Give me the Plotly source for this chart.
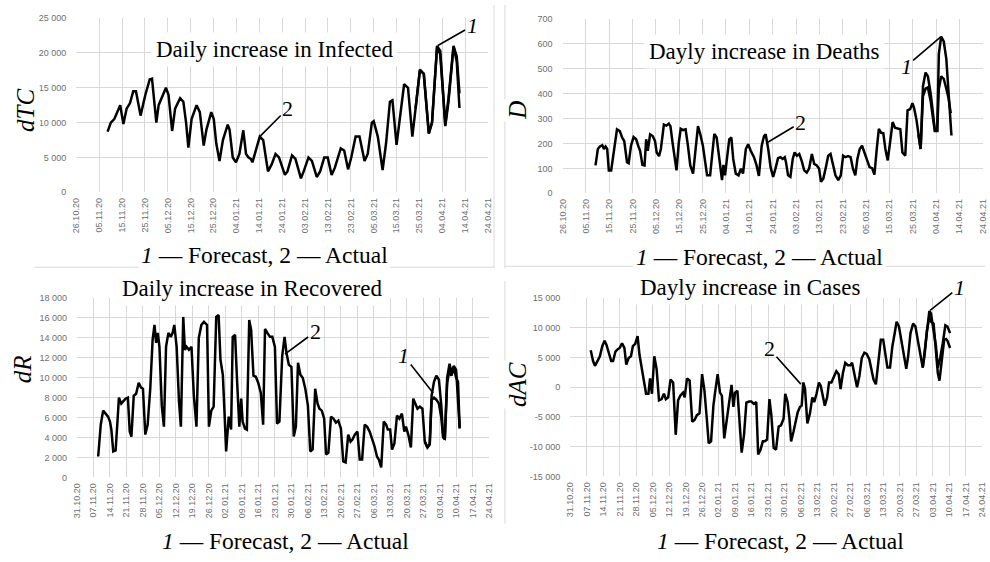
import plotly.graph_objects as go
import pandas as pd

W, H = 990, 562

# ---------------- data (days counted from the first axis date) ----------------
# Panel 1: Daily increase in Infected, axis starts 26.10.20
TC_START = "2020-10-26"
TC_DAY = [13.7, 15.1, 16.6, 18.0, 19.2, 20.6, 22.0, 23.5, 24.9, 26.1, 28.1, 30.2, 32.1, 33.1, 35.0, 36.0,
          37.4, 39.2, 40.3, 41.0, 41.9, 43.2, 45.4, 46.8, 48.0, 49.0, 50.4, 52.6, 54.0, 55.7, 56.9, 59.0,
          60.1, 61.2, 62.6, 64.1, 66.2, 67.0, 68.4, 69.8, 71.3, 73.0, 74.2, 75.3, 76.3, 77.0, 78.5, 80.2,
          81.7, 83.8, 85.4, 87.1, 88.6, 89.7, 91.2, 92.3, 94.3, 95.8, 97.2, 98.2, 99.4, 101.5, 103.0, 105.1,
          106.6, 108.4, 109.9, 111.6, 113.0, 115.6, 117.1, 118.8, 120.2, 122.1, 123.8, 126.0, 127.4, 129.2,
          130.0, 131.8, 133.9, 135.4, 137.1, 138.2, 140.0, 141.1, 143.3, 145.0, 146.9, 148.3, 150.2, 151.9,
          154.1, 155.5, 157.7, 159.1, 161.3, 162.7, 164.9, 166.3, 167.5]
TC_ACTUAL = [8700, 10000, 10500, 11500, 12500, 9800, 12000, 12800, 14500, 14500, 11000, 14000, 16200, 16300,
             10000, 12500, 13500, 15000, 14000, 11500, 8800, 12000, 13500, 13000, 10000, 6400, 10500, 12500,
             11500, 6700, 9000, 11500, 10500, 7000, 4500, 7500, 9700, 9000, 5000, 4300, 5500, 8900, 5500,
             5000, 4800, 4300, 6000, 8000, 7500, 3000, 4000, 5500, 5000, 4000, 2500, 3000, 5300, 4800, 3000,
             2000, 3000, 5000, 4500, 2200, 3000, 5000, 5000, 2500, 3500, 6300, 6000, 3300, 5000, 8000, 8000,
             4500, 5500, 10000, 10200, 8000, 3200, 7000, 13000, 13200, 6800, 10000, 15500, 15000, 8000, 12000,
             17500, 17000, 8500, 10000, 20800, 19800, 9500, 13000, 20900, 18800, 12100]
TC_FC_DAY = [148.3, 150.2, 151.9, 154.1, 155.5, 157.7, 159.1, 161.3, 162.7, 164.9, 166.3, 167.5]
TC_FORECAST = [12000, 17600, 17000, 8400, 10000, 21000, 20300, 9700, 13500, 21000, 19500, 14200]

# Panel 2: Dayly increase in Deaths, axis starts 26.10.20
D_START = "2020-10-26"
D_DAY = [14.1, 15.1, 16.0, 17.0, 17.7, 18.4, 19.1, 19.8, 20.8, 21.9, 23.3, 24.5, 25.5, 26.4, 27.6, 28.3,
         29.3, 30.4, 31.5, 32.5, 33.2, 34.2, 35.1, 35.8, 36.5, 37.5, 38.6, 39.6, 40.3, 41.3, 42.1, 43.4,
         44.5, 45.5, 46.2, 47.1, 48.1, 48.8, 49.8, 50.6, 51.6, 52.7, 53.7, 54.7, 55.9, 57.0, 58.0, 59.0,
         60.1, 61.1, 61.9, 63.2, 64.3, 65.0, 66.0, 66.9, 67.9, 68.3, 68.9, 69.6, 70.4, 71.4, 72.3, 73.1,
         74.2, 75.4, 76.4, 77.3, 78.5, 79.5, 80.6, 82.0, 83.1, 84.1, 85.3, 86.3, 87.0, 88.1, 89.1, 90.2,
         91.2, 92.3, 93.3, 94.3, 95.2, 95.7, 96.6, 97.6, 98.6, 99.4, 100.4, 101.4, 102.5, 103.5, 104.6,
         105.6, 106.8, 107.8, 108.9, 109.9, 110.7, 111.7, 112.8, 113.8, 114.8, 115.7, 116.9, 118.1, 119.2,
         120.2, 121.2, 122.3, 123.4, 124.4, 125.4, 126.3, 127.3, 128.3, 129.4, 130.5, 131.5, 132.6, 133.6,
         134.6, 135.5, 136.5, 137.4, 138.3, 139.3, 140.3, 141.4, 142.4, 143.5, 144.7, 145.6, 146.8, 147.8,
         148.9, 149.9, 150.6, 151.6, 152.4, 153.4, 154.4, 155.5, 156.5, 157.7, 158.7, 159.5, 160.5, 161.2,
         162.2, 163.3, 164.4, 165.4, 166.3]
D_ACTUAL = [112, 178, 188, 193, 178, 188, 178, 92, 92, 164, 257, 250, 224, 210, 125, 121, 191, 226, 217, 188,
            171, 114, 112, 217, 171, 237, 230, 210, 164, 149, 178, 276, 272, 280, 270, 204, 138, 92, 204, 259,
            254, 257, 191, 112, 79, 191, 270, 237, 191, 125, 72, 72, 178, 239, 224, 164, 86, 53, 114, 72, 138,
            217, 224, 138, 79, 72, 99, 79, 178, 197, 171, 145, 112, 70, 191, 230, 237, 178, 105, 66, 99, 141,
            145, 138, 145, 125, 72, 66, 138, 164, 151, 158, 128, 92, 83, 99, 158, 118, 112, 99, 46, 59, 105,
            151, 158, 125, 72, 53, 72, 151, 145, 149, 145, 99, 72, 138, 178, 191, 164, 138, 105, 101, 75, 178,
            259, 243, 241, 178, 132, 204, 286, 263, 259, 257, 164, 151, 333, 338, 362, 342, 296, 237, 178, 390,
            420, 425, 370, 300, 250, 250, 420, 470, 460, 420, 380, 322]
D_FC_DAY = [152.4, 153.4, 154.4, 155.5, 156.5, 157.7, 158.7, 159.5, 160.5, 161.2, 162.2, 163.3, 164.4, 165.4, 166.6]
D_FORECAST = [237, 178, 430, 485, 470, 400, 320, 252, 252, 560, 630, 610, 540, 400, 232]

# Panel 3: Daily increase in Recovered, axis starts 31.10.20
R_START = "2020-10-31"
R_DAY = [9.0, 10.1, 11.1, 12.2, 13.2, 14.0, 14.6, 15.4, 16.4, 17.1, 17.8, 18.8, 19.6, 20.6, 21.6, 22.4, 23.1,
         24.1, 25.1, 26.2, 27.2, 28.0, 29.0, 30.0, 31.1, 32.1, 32.9, 33.6, 34.3, 35.0, 36.0, 36.9, 37.8, 38.8,
         39.8, 40.6, 41.3, 42.3, 43.3, 44.1, 45.1, 45.8, 46.5, 47.5, 48.6, 49.6, 50.7, 51.7, 52.8, 53.9, 55.2,
         56.0, 57.0, 58.0, 59.1, 60.1, 60.9, 61.9, 62.6, 63.3, 64.4, 65.4, 66.1, 67.1, 67.9, 68.9, 69.7, 70.3,
         71.3, 72.1, 73.1, 73.9, 74.9, 75.9, 76.9, 78.0, 79.0, 79.8, 80.8, 81.9, 82.9, 84.0, 84.9, 85.9, 87.1,
         88.1, 88.9, 89.9, 91.0, 92.0, 92.9, 93.8, 94.8, 95.8, 96.9, 98.0, 99.0, 100.0, 101.1, 102.1, 102.9,
         103.9, 104.9, 105.7, 106.7, 107.8, 108.8, 109.9, 110.9, 112.0, 113.0, 114.0, 115.1, 116.1, 116.9,
         117.9, 119.0, 120.0, 121.0, 122.1, 123.1, 124.2, 125.2, 126.3, 127.3, 128.1, 129.1, 130.2, 131.2,
         131.9, 132.9, 133.7, 134.7, 135.8, 136.8, 137.9, 138.9, 139.6, 140.6, 141.7, 142.7, 143.5, 144.5,
         145.5, 146.6, 147.6, 148.7, 149.7, 150.5, 151.5, 152.5, 153.6, 154.6, 155.4, 156.1, 157.1, 158.1,
         158.9, 159.9, 160.9, 161.7, 162.4]
R_ACTUAL = [2100, 5300, 6700, 6400, 6100, 5600, 4800, 2600, 2700, 5300, 8000, 7400, 7600, 7900, 8000, 4600, 4100,
            8200, 8400, 9500, 9000, 8900, 4300, 5300, 8900, 13800, 15300, 13500, 14500, 13100, 7200, 5100, 13100,
            14500, 14100, 14500, 15300, 13100, 7600, 5100, 16100, 12800, 13100, 12800, 13100, 8200, 5100, 14000,
            15300, 15600, 15300, 5100, 6700, 7100, 16100, 16300, 11800, 10300, 6600, 2600, 6100, 4800, 14100,
            14300, 9900, 5100, 7900, 5600, 4900, 4800, 15800, 14800, 10200, 10100, 9500, 8500, 5300, 14900,
            14500, 14100, 14100, 13100, 5400, 5600, 12200, 14100, 12500, 11300, 11100, 4100, 5100, 11500, 10300,
            10000, 8900, 7200, 2600, 2800, 8900, 7400, 6900, 6700, 5900, 2300, 2500, 6100, 5900, 5500, 5700,
            4900, 1600, 1500, 4300, 3600, 3800, 4300, 4600, 1800, 1800, 5300, 5100, 4600, 3900, 3100, 2100, 1800,
            1000, 5600, 5300, 4800, 4800, 2800, 3400, 6200, 5900, 6400, 4600, 5100, 4300, 3000, 7900, 7400, 6900,
            7100, 6900, 3600, 3000, 3300, 7800, 8000, 7800, 7400, 6000, 4000, 3900, 9500, 10800, 10200, 11000,
            10000, 9600, 4900]
R_FC_DAY = [147.6, 148.7, 149.7, 150.5, 151.5, 152.5, 153.6, 154.6, 155.4, 156.1, 157.1, 158.1, 158.9, 159.9, 160.9, 162.4]
R_FORECAST = [3600, 3000, 3400, 8200, 9600, 10200, 9800, 7200, 4100, 3800, 10000, 11400, 10500, 11200, 10800, 5000]

# Panel 4: Dayly increase in Cases, axis starts 31.10.20
AC_START = "2020-10-31"
AC_DAY = [8.7, 9.7, 10.5, 11.5, 12.6, 13.6, 14.6, 15.4, 16.4, 17.4, 18.2, 19.2, 20.2, 21.0, 22.0, 23.0, 23.8,
          24.8, 25.8, 26.6, 27.6, 28.6, 29.4, 30.4, 31.4, 32.2, 33.2, 33.9, 34.7, 35.7, 36.7, 37.7, 38.8, 39.8,
          40.6, 41.6, 42.6, 43.7, 44.8, 45.8, 46.8, 47.9, 48.6, 49.6, 50.7, 51.8, 52.8, 53.8, 54.9, 56.0, 57.0,
          58.0, 58.8, 59.8, 60.8, 61.6, 62.6, 63.6, 64.4, 65.4, 66.5, 67.5, 68.5, 69.3, 70.0, 71.0, 71.7, 72.8,
          73.8, 74.8, 75.9, 76.9, 78.0, 79.0, 79.8, 80.8, 81.8, 82.6, 83.6, 84.6, 85.4, 86.4, 87.4, 88.5, 89.5,
          90.6, 91.3, 92.3, 93.1, 93.8, 94.8, 95.8, 96.6, 97.6, 98.3, 99.0, 99.7, 100.7, 101.8, 102.8, 103.6,
          104.6, 105.6, 106.4, 107.4, 108.1, 109.1, 109.9, 110.9, 111.9, 113.0, 114.0, 114.8, 115.8, 116.8,
          117.9, 118.9, 119.7, 120.7, 121.8, 122.8, 123.8, 124.9, 125.9, 127.0, 128.0, 128.8, 129.8, 130.8,
          131.9, 132.9, 133.7, 134.7, 135.8, 136.8, 137.8, 138.6, 139.6, 140.6, 141.7, 142.7, 143.5, 144.5,
          145.6, 146.6, 147.7, 148.7, 149.7, 150.5, 151.5, 152.5, 153.2, 154.3, 155.3, 156.1, 156.8, 157.8,
          158.8, 159.6, 160.2, 161.3]
AC_ACTUAL = [6200, 4400, 3600, 4400, 5200, 6900, 7800, 7100, 5500, 4400, 4400, 6000, 6400, 6600, 7400, 6600, 3800,
             4900, 5200, 6900, 7300, 8600, 5500, 2700, 800, -1100, -1100, 1500, -1100, 5200, 3000, -2200, -2000,
             -1100, -2000, -1700, 1300, 800, -8000, -2200, -1400, -900, -1700, 1500, 1100, -5800, -5500, -4700,
             -4400, 2200, -600, -5300, -9400, -9100, -3100, -600, 2200, -900, -1400, -8600, -5300, -2000, 400,
             -3300, -900, -600, -4200, -11000, -8000, -2600, -2400, -2400, -2800, -2500, -11300, -10500, -9100,
             -9100, -8800, -2000, -4700, -10200, -10500, -6600, -6400, -5300, -1100, -2500, -5300, -9100, -7500,
             -5300, -4200, -3300, -3100, 800, -300, -6100, -4400, -1700, -2500, -1100, 800, 200, -1700, -3100,
             -1700, 800, 800, 1600, 2700, 2200, -300, 2400, 4100, 3700, 3700, 4100, 2400, 0, 1900, 4900, 5800,
             5600, 4700, 3000, 1300, 500, 4100, 8000, 8000, 5500, 3300, 3300, 6900, 9100, 11000, 10200, 7700,
             5200, 3100, 5200, 9100, 10700, 10200, 7700, 5800, 3300, 5500, 9600, 11800, 11000, 10700, 6300, 2400,
             1100, 4100, 8000, 8100, 7800, 6600]
AC_FC_DAY = [149.7, 150.5, 151.5, 152.5, 153.2, 154.3, 155.3, 156.1, 157.1, 158.2, 159.3, 160.2, 161.3]
AC_FORECAST = [3300, 6000, 10200, 12800, 12400, 9900, 6900, 3300, 4900, 7400, 10400, 10200, 9100]

# axis tick values
TC_YTICKS = [0, 5000, 10000, 15000, 20000, 25000]
D_YTICKS = [0, 100, 200, 300, 400, 500, 600, 700]
R_YTICKS = [0, 2000, 4000, 6000, 8000, 10000, 12000, 14000, 16000, 18000]
AC_YTICKS = [-15000, -10000, -5000, 0, 5000, 10000, 15000]

TITLES = ["Daily increase in Infected", "Dayly increase in Deaths",
          "Daily increase in Recovered", "Dayly increase in Cases"]
YTITLES = ["dTC", "D", "dR", "dAC"]
CAPTION = "<i>1</i> — Forecast, 2 — Actual"


# ---------------- helpers ----------------
def to_dates(start, days):
    return [pd.Timestamp(start) + pd.to_timedelta(d, unit="D") for d in days]


def fmt(v):
    return f"{v:,}".replace(",", " ")


def dx(a, b):
    return [a / W, b / W]


def dy(top, bottom):
    return [1 - bottom / H, 1 - top / H]


SERIF = "Liberation Serif, Times New Roman, serif"
SANS = "Liberation Sans, Arial, sans-serif"
GRID = "#d9d9d9"
TICKC = "#6f6f6f"
LW = 2.5

panels = [
    dict(start=TC_START, end="2021-04-24", dtick=10, day=TC_DAY, act=TC_ACTUAL, fday=TC_FC_DAY, fc=TC_FORECAST,
         yt=TC_YTICKS, xd=dx(72, 488), yd=dy(13.3, 190.7)),
    dict(start=D_START, end="2021-04-24", dtick=10, day=D_DAY, act=D_ACTUAL, fday=D_FC_DAY, fc=D_FORECAST,
         yt=D_YTICKS, xd=dx(563.3, 987.7), yd=dy(14.3, 191.7)),
    dict(start=R_START, end="2021-04-24", dtick=7, day=R_DAY, act=R_ACTUAL, fday=R_FC_DAY, fc=R_FORECAST,
         yt=R_YTICKS, xd=dx(72.7, 489.3), yd=dy(298.3, 481)),
    dict(start=AC_START, end="2021-04-24", dtick=7, day=AC_DAY, act=AC_ACTUAL, fday=AC_FC_DAY, fc=AC_FORECAST,
         yt=AC_YTICKS, xd=dx(571, 987.3), yd=dy(298.3, 480)),
]

fig = go.Figure()
layout = {}
for i, p in enumerate(panels, start=1):
    xa = "x" if i == 1 else f"x{i}"
    ya = "y" if i == 1 else f"y{i}"
    fig.add_trace(go.Scatter(x=to_dates(p["start"], p["fday"]), y=p["fc"], mode="lines",
                             line=dict(color="black", width=LW), xaxis=xa, yaxis=ya, name="1"))
    fig.add_trace(go.Scatter(x=to_dates(p["start"], p["day"]), y=p["act"], mode="lines",
                             line=dict(color="black", width=LW), xaxis=xa, yaxis=ya, name="2"))
    layout[f"xaxis{'' if i == 1 else i}"] = dict(
        type="date", domain=p["xd"], anchor=ya, range=[p["start"], p["end"]],
        tick0=p["start"], dtick=p["dtick"] * 86400000, tickformat="%d.%m.%y", tickangle=-90,
        showgrid=True, gridcolor=GRID, gridwidth=1, zeroline=False, showline=False, ticks="",
        tickfont=dict(family=SANS, size=9, color=TICKC), ticklabelstandoff=3)
    layout[f"yaxis{'' if i == 1 else i}"] = dict(
        domain=p["yd"], anchor=xa, range=[p["yt"][0], p["yt"][-1]],
        tickvals=p["yt"], ticktext=[fmt(v) for v in p["yt"]],
        showgrid=True, gridcolor=GRID, gridwidth=1, zeroline=False, showline=False, ticks="",
        tickfont=dict(family=SANS, size=9, color=TICKC), ticklabelstandoff=9)

fig.update_layout(**layout)

# frame lines of the original chart boxes
frames = [(494, 0, 494, 268), (30, 267, 494, 267), (505, 0, 505, 268), (505, 266, 990, 266),
          (505, 281, 505, 528)]
shapes = [dict(type="line", xref="paper", yref="paper", x0=a / W, y0=1 - b / H, x1=c / W, y1=1 - d / H,
               line=dict(color=GRID, width=1), layer="below") for a, b, c, d in frames]

ann = []
title_pos = [(272, 45), (767, 47), (250, 289), (753, 288)]
cap_pos = [(262, 255), (762, 257), (283, 546), (783, 546)]
ytitle_pos = [(20, 107), (517, 107), (18, 371), (517, 386)]
for k in range(4):
    tx, ty = title_pos[k]
    ann.append(dict(text=TITLES[k], x=tx / W, y=1 - ty / H, xref="paper", yref="paper", showarrow=False,
                    xanchor="center", yanchor="middle", bgcolor="white", borderpad=4,
                    font=dict(family=SERIF, size=23, color="black")))
    cx, cy = cap_pos[k]
    ann.append(dict(text=CAPTION, x=cx / W, y=1 - cy / H, xref="paper", yref="paper", showarrow=False,
                    xanchor="center", yanchor="middle", bgcolor="white", borderpad=2,
                    font=dict(family=SERIF, size=23.5, color="black")))
    yx, yy = ytitle_pos[k]
    ann.append(dict(text=f"<i>{YTITLES[k]}</i>", x=yx / W, y=1 - yy / H, xref="paper", yref="paper",
                    showarrow=False, textangle=-90, xanchor="center", yanchor="middle", bgcolor="white",
                    font=dict(family=SERIF, size=25, color="black")))

# curve labels 1 (forecast) and 2 (actual) with leader lines
labels = [
    ("x", "y", TC_START, 157.7, 21000, "<i>1</i>", 35, -20),
    ("x", "y", TC_START, 80.2, 8000, "2", 28, -28),
    ("x2", "y2", D_START, 162.2, 630, "<i>1</i>", -35, 30),
    ("x2", "y2", D_START, 87.0, 200, "2", 35, -21),
    ("x3", "y3", R_START, 151.4, 8400, "<i>1</i>", -30, -38),
    ("x3", "y3", R_START, 87.9, 12300, "2", 31, -23),
    ("x4", "y4", AC_START, 152.5, 12800, "<i>1</i>", 30, -24),
    ("x4", "y4", AC_START, 98.2, 400, "2", -32, -36),
]
for xr, yr, st, d, v, t, ax, ay in labels:
    ann.append(dict(text=t, xref=xr, yref=yr, x=to_dates(st, [d])[0], y=v, showarrow=True, arrowhead=0,
                    arrowwidth=1.6, arrowcolor="black", ax=ax, ay=ay, standoff=1,
                    font=dict(family=SERIF, size=22, color="black")))

fig.update_layout(width=W, height=H, margin=dict(l=0, r=0, t=0, b=0), paper_bgcolor="white",
                  plot_bgcolor="white", showlegend=False, annotations=ann, shapes=shapes)

fig.write_html("out.html", config={"displayModeBar": False, "staticPlot": True})

# remove the default page margin so the figure sits at the window's top-left corner
with open("out.html", encoding="utf-8") as f:
    page = f.read()
page = page.replace("<body>", '<body style="margin:0;padding:0;overflow:hidden">', 1)
with open("out.html", "w", encoding="utf-8") as f:
    f.write(page)
